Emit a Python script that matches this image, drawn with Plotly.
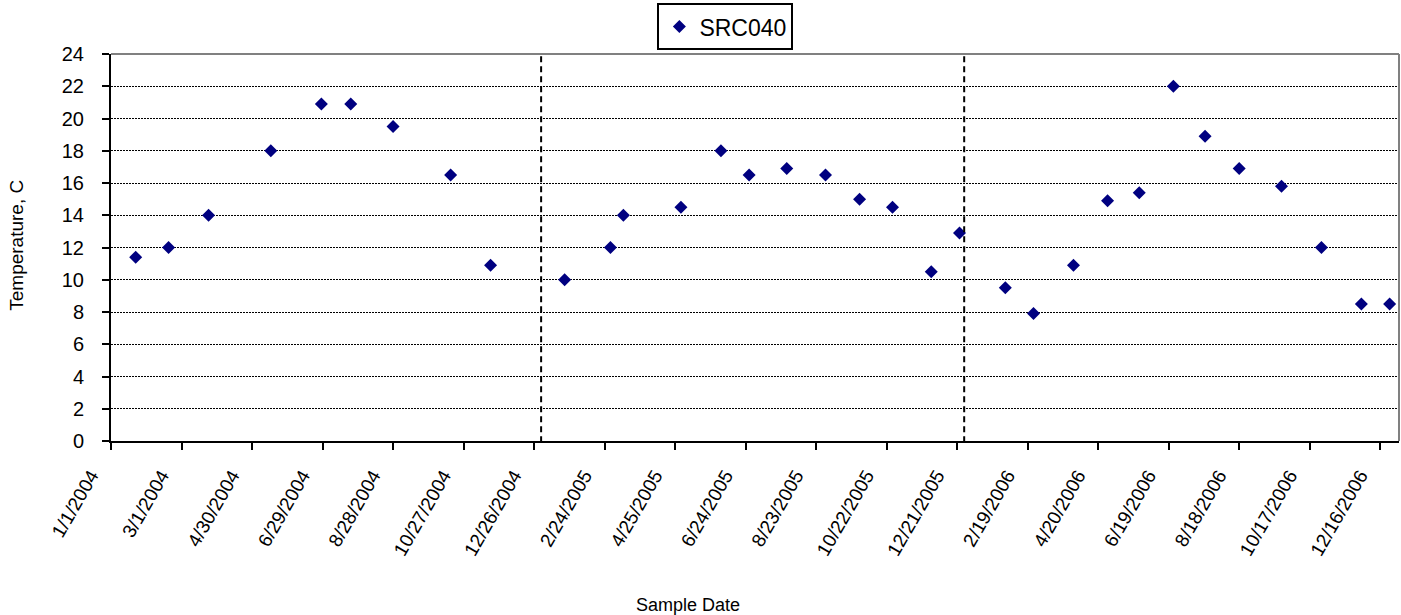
import pandas as pd
import plotly.graph_objects as go

# ---- data ----
sample_dates = ['2004-01-22', '2004-02-19', '2004-03-24', '2004-05-16', '2004-06-28',
                '2004-07-23', '2004-08-28', '2004-10-16', '2004-11-19', '2005-01-21',
                '2005-03-01', '2005-03-12', '2005-04-30', '2005-06-03', '2005-06-27',
                '2005-07-29', '2005-08-31', '2005-09-29', '2005-10-27', '2005-11-29',
                '2005-12-23', '2006-01-31', '2006-02-24', '2006-03-30', '2006-04-28',
                '2006-05-25', '2006-06-23', '2006-07-20', '2006-08-18', '2006-09-23',
                '2006-10-27', '2006-11-30', '2006-12-24']
temperature = [11.4, 12, 14, 18, 20.9, 20.9, 19.5, 16.5, 10.9, 10,
               12, 14, 14.5, 18, 16.5, 16.9, 16.5, 15, 14.5, 10.5,
               12.9, 9.5, 7.9, 10.9, 14.9, 15.4, 22, 18.9, 16.9, 15.8,
               12, 8.5, 8.5]
series_name = 'SRC040'

x_tick_labels = ['1/1/2004', '3/1/2004', '4/30/2004', '6/29/2004', '8/28/2004',
                 '10/27/2004', '12/26/2004', '2/24/2005', '4/25/2005', '6/24/2005',
                 '8/23/2005', '10/22/2005', '12/21/2005', '2/19/2006', '4/20/2006',
                 '6/19/2006', '8/18/2006', '10/17/2006', '12/16/2006']
x_range = ['2004-01-01', '2007-01-01']
year_separators = ['2005-01-01', '2005-12-27']
y_ticks = list(range(0, 25, 2))

tick_vals = [pd.to_datetime(t, format='%m/%d/%Y') for t in x_tick_labels]

FONT = 'Liberation Sans, Arial, sans-serif'

fig = go.Figure()
fig.add_trace(go.Scatter(
    x=pd.to_datetime(sample_dates), y=temperature, mode='markers', name=series_name,
    marker=dict(symbol='diamond', size=10, color='#000080'),
    showlegend=True,
))

shapes = []
for d in year_separators:
    shapes.append(dict(type='line', xref='x', yref='y', x0=d, x1=d, y0=-0.7, y1=24.2,
                       line=dict(color='black', width=2, dash='6px,4px'), layer='above'))
# gray frame top & right
shapes.append(dict(type='line', xref='paper', yref='paper', x0=0, x1=1, y0=1, y1=1,
                   line=dict(color='#808080', width=2), layer='above'))
shapes.append(dict(type='line', xref='paper', yref='paper', x0=1, x1=1, y0=0, y1=1,
                   line=dict(color='#808080', width=2), layer='above'))

fig.update_layout(
    width=1401, height=615,
    margin=dict(l=111, r=2, t=54, b=174),
    paper_bgcolor='white', plot_bgcolor='white',
    font=dict(family=FONT, color='black', size=17),
    showlegend=True,
    legend=dict(x=0.477, xanchor='center', y=1.01, yanchor='bottom',
                bordercolor='black', borderwidth=2, bgcolor='white',
                itemwidth=30,
                font=dict(size=23, family=FONT)),
    xaxis=dict(type='date', range=x_range, tickvals=tick_vals, ticktext=x_tick_labels,
               tickangle=-60, showgrid=False, zeroline=False,
               showline=True, linecolor='black', linewidth=2,
               ticks='outside', ticklen=7, tickwidth=2, tickcolor='black',
               ticklabelshift=-20, ticklabelstandoff=7,
               tickfont=dict(size=19, family=FONT)),
    yaxis=dict(range=[0, 24], tickvals=y_ticks, showgrid=True, gridcolor='black',
               gridwidth=1, griddash='2px,1px', zeroline=False,
               showline=True, linecolor='black', linewidth=2,
               ticks='outside', ticklen=7, tickwidth=2, tickcolor='black',
               ticklabelstandoff=14,
               tickfont=dict(size=20, family=FONT)),
    shapes=shapes,
    annotations=[
        dict(text='Sample Date', xref='paper', yref='paper', x=0.448, y=-0.424,
             xanchor='center', yanchor='middle', showarrow=False,
             font=dict(size=18, family=FONT)),
        dict(text='Temperature, C', xref='paper', yref='paper', x=-0.073, y=0.507,
             xanchor='center', yanchor='middle', showarrow=False, textangle=-90,
             font=dict(size=19, family=FONT)),
    ],
)

fig.write_html('out.html')
